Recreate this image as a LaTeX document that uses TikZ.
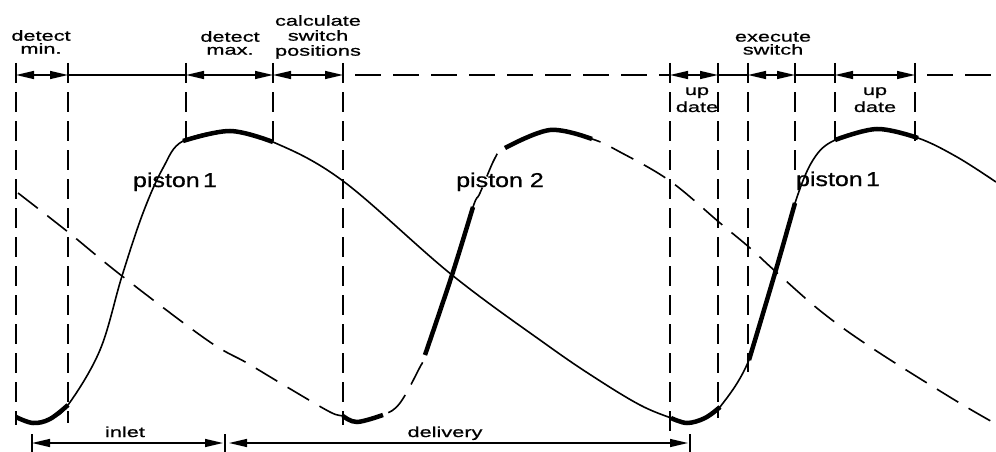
\documentclass[tikz,border=0pt]{standalone}
\usepackage{fontspec}
\setmainfont{Liberation Sans}
\newfontfamily\labelfont[FakeStretch=1.5, FakeBold=0.8]{Liberation Sans}
\newfontfamily\pistonfont[FakeStretch=1.25, FakeBold=0.8]{Liberation Sans}
\usetikzlibrary{arrows.meta}
\tikzset{
    guide/.style={draw, line width=1.4pt, dash pattern=on 20pt off 9pt},
    span/.style={>={Triangle[length=18pt,width=8pt]}, <->, line width=1.4pt},
    track/.style={line width=1.4pt},
    trackdash/.style={line width=1.4pt, dash pattern=on 26pt off 12pt, dash phase=26pt},
    stroke/.style={line width=1.6pt},
    strokedash/.style={line width=1.6pt, dash pattern=on 25pt off 12pt},
    boldstroke/.style={line width=4.5pt},
    lbl/.style={font=\labelfont\fontsize{14.5pt}{13pt}\selectfont, align=center, inner sep=0pt},
    plabel/.style={font=\pistonfont\fontsize{20pt}{20pt}\selectfont, inner sep=0pt}
}

\begin{document}
\begin{tikzpicture}[x=1pt, y=-1pt]
    \useasboundingbox (0,0) rectangle (996,452);

    % phase markers
    \foreach \x/\yb [count=\i] in {16/425, 68/423, 186/143, 273/145, 343/425, 670/432, 718/418, 748/372, 795/175, 835/145, 915/145} {
        \coordinate (m\i) at (\x,75);
        \draw[guide] (\x,63) -- (\x,\yb);
    }
    \coordinate (mend) at (996,75);

    % top time line
    \draw[span] (m1) -- (m2);
    \draw[track] (m2) -- (m3);
    \draw[span] (m3) -- (m4);
    \draw[span] (m4) -- (m5);
    \draw[trackdash] (m5) -- (m6);
    \draw[span] (m6) -- (m7);
    \draw[track] (m7) -- (m8);
    \draw[span] (m8) -- (m9);
    \draw[track] (m9) -- (m10);
    \draw[span] (m10) -- (m11);
    \draw[trackdash] (m11) -- (mend);

    % piston 1
    \draw[stroke] plot[smooth, tension=0.6] coordinates {(16,417) (33,423) (50,419) (68,405) (100,350) (122,276) (143,213) (163,168) (183,141) (230,131) (273,142) (343,181) (452,275) (547,345) (597,379) (640,405) (671,418) (687,423) (705,418) (720,407) (749,360) (775,273) (795,203) (813,160) (835,140) (877,129) (918,138) (957,157) (996,182)};
    \draw[boldstroke] plot[smooth, tension=0.6] coordinates {(16,417) (33,423) (50,419) (68,405)};
    \draw[boldstroke] plot[smooth, tension=0.6] coordinates {(183,141) (230,131) (273,142)};
    \draw[boldstroke] plot[smooth, tension=0.6] coordinates {(671,418) (687,423) (705,418) (720,407)};
    \draw[boldstroke] plot[smooth, tension=0.6] coordinates {(749,360) (775,273) (795,203)};
    \draw[boldstroke] plot[smooth, tension=0.6] coordinates {(835,140) (877,129) (918,138)};

    % piston 2
    \draw[strokedash] plot[smooth, tension=0.6] coordinates {(18,193) (68,232) (122,276) (207,340) (247,363) (287,387) (330,412) (343,416) (357,422) (383,415) (400,403) (420,367) (425,355) (452,275) (473,207) (480,193) (495,158) (505,148) (550,130) (592,139) (620,152) (670,181) (720,223) (750,248) (775,271) (823,313) (875,350) (953,399) (996,424)};
    \draw[boldstroke] plot[smooth, tension=0.6] coordinates {(343,416) (357,422) (383,415)};
    \draw[boldstroke] plot[smooth, tension=0.6] coordinates {(425,355) (452,275) (473,207)};
    \draw[boldstroke] plot[smooth, tension=0.6] coordinates {(505,148) (550,130) (592,139)};

    % bottom time line
    \coordinate (b1) at (32,443);
    \coordinate (b2) at (225,443);
    \coordinate (b3) at (690,443);
    \foreach \c in {b1,b2,b3}
        \draw[track] ([yshift=9pt]\c) -- ([yshift=-9pt]\c);
    \draw[span, shorten >=2pt] (b1) -- (b2);
    \draw[span, shorten <=4pt, shorten >=2pt] (b2) -- (b3);

    % labels
    \node[lbl, anchor=north] (dmin) at (41,30) {detect\\min.};
    \node[lbl, anchor=north] (dmax) at (230,31) {detect\\max.};
    \node[lbl, anchor=north, font=\labelfont\fontsize{14.5pt}{15pt}\selectfont] (calc) at (318,15) {calculate\\switch\\positions};
    \node[lbl, anchor=north] (exec) at (773,32) {execute\\switch};
    \node[lbl, anchor=north, font=\labelfont\fontsize{14.5pt}{17pt}\selectfont] (upd1) at (697,87) {up\\date};
    \node[lbl, anchor=north, font=\labelfont\fontsize{14.5pt}{17pt}\selectfont] (upd2) at (875,87) {up\\date};
    \node[plabel, anchor=base] (p1a) at (175,187) {piston\,1};
    \node[plabel, anchor=base] (p2) at (500,187) {piston 2};
    \node[plabel, anchor=base] (p1b) at (838,186) {piston\,1};
    \node[lbl, anchor=base] (inlet) at (125,437) {inlet};
    \node[lbl, anchor=base] (deliv) at (445,437) {delivery};
\end{tikzpicture}
\end{document}
